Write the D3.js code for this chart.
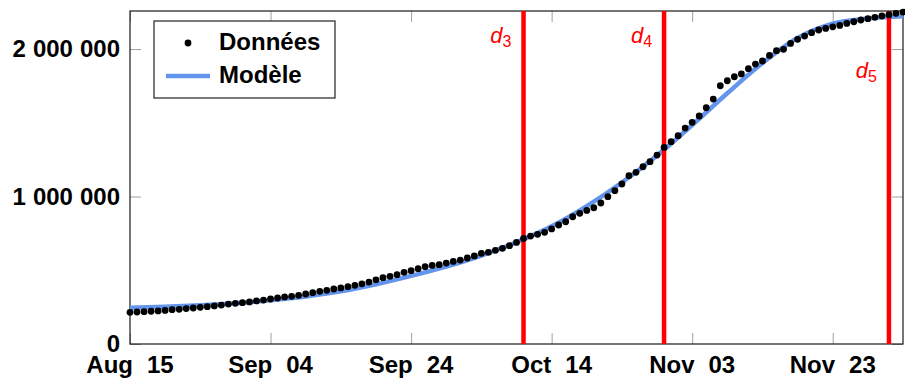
<!DOCTYPE html>
<html>
<head>
<meta charset="utf-8">
<script src="https://cdn.jsdelivr.net/npm/d3@7"></script>
<style>
  body { margin: 0; background: #fff; }
  svg text { font-family: "Liberation Sans", Arial, sans-serif; }
</style>
</head>
<body>
<div id="chart"></div>
<script>
// data (cumulative counts, thousands), one value per day from startDate
const startDate = new Date(2020, 7, 15);
const dailyValues = [
  215, 217, 219, 222, 224, 228, 233, 235, 240, 244,
  249, 253, 258, 264, 271, 276, 280, 285, 292, 298,
  305, 312, 319, 323, 330, 339, 348, 357, 364, 373,
  380, 389, 398, 408, 420, 435, 450, 459, 470, 486,
  497, 511, 524, 533, 538, 549, 560, 569, 583, 597,
  615, 621, 635, 649, 667, 689, 716, 732, 744, 757,
  780, 807, 829, 863, 886, 906, 924, 956, 999, 1040,
  1085, 1141, 1164, 1202, 1236, 1281, 1333, 1372, 1412, 1464,
  1503, 1546, 1602, 1661, 1751, 1785, 1812, 1831, 1867, 1898,
  1919, 1957, 1989, 1998, 2038, 2066, 2088, 2111, 2129, 2140,
  2151, 2160, 2174, 2185, 2197, 2206, 2215, 2224, 2233, 2242,
  2251
];
const modelDays = [0, 5, 10, 15, 20, 25, 30, 35, 40, 45, 50, 55,
  60, 65, 70, 75, 80, 85, 90, 95, 100, 105, 110];
const modelValues = [245, 252, 262, 276, 296, 322, 357, 405, 462, 525, 600, 690,
  798, 935, 1095, 1278, 1485, 1700, 1905, 2075, 2172, 2207, 2222];
const markerDays = [56, 76, 108];
const markerNames = ['3', '4', '5'];
const xTickDays = [0, 20, 40, 60, 80, 100];
const xTickLabels = [['Aug', '15'], ['Sep', '04'], ['Sep', '24'], ['Oct', '14'], ['Nov', '03'], ['Nov', '23']];
const yTickValues = [0, 1000000, 2000000];
const yTickLabels = ['0', '1 000 000', '2 000 000'];
const seriesNames = ['Données', 'Modèle'];

const width = 905, height = 378;
const margin = { top: 11, right: 2, bottom: 34, left: 130 };
const dayToDate = d => d3.timeDay.offset(startDate, d);

const svg = d3.select('#chart').append('svg')
  .attr('width', width)
  .attr('height', height);

const x = d3.scaleTime()
  .domain([dayToDate(0), dayToDate(110)])
  .range([margin.left, width - margin.right]);
const y = d3.scaleLinear()
  .domain([0, 2258000])
  .range([height - margin.bottom, margin.top]);

const x0 = margin.left, x1 = width - margin.right;
const y0 = height - margin.bottom, y1 = margin.top;
const tickLen = 11;

// ticks on all four sides, pointing inward
const xTickDates = xTickDays.map(dayToDate);
svg.append('g')
  .attr('transform', `translate(0,${y0})`)
  .call(d3.axisBottom(x).tickValues(xTickDates).tickSize(-tickLen).tickFormat(''))
  .call(g => g.select('.domain').remove())
  .call(g => g.selectAll('line').attr('stroke', '#a0a0a0'));
svg.append('g')
  .attr('transform', `translate(0,${y1})`)
  .call(d3.axisTop(x).tickValues(xTickDates).tickSize(-tickLen).tickFormat(''))
  .call(g => g.select('.domain').remove())
  .call(g => g.selectAll('line').attr('stroke', '#a0a0a0'));
svg.append('g')
  .attr('transform', `translate(${x0},0)`)
  .call(d3.axisLeft(y).tickValues(yTickValues).tickSize(-tickLen).tickFormat(''))
  .call(g => g.select('.domain').remove())
  .call(g => g.selectAll('line').attr('stroke', '#a0a0a0'));
svg.append('g')
  .attr('transform', `translate(${x1},0)`)
  .call(d3.axisRight(y).tickValues(yTickValues).tickSize(-tickLen).tickFormat(''))
  .call(g => g.select('.domain').remove())
  .call(g => g.selectAll('line').attr('stroke', '#a0a0a0'));

// frame
svg.append('rect')
  .attr('x', x0).attr('y', y1)
  .attr('width', x1 - x0).attr('height', y0 - y1)
  .attr('fill', 'none')
  .attr('stroke', '#1a1a1a')
  .attr('stroke-width', 1.2);

// tick labels
xTickDays.forEach((d, i) => {
  const t = svg.append('text')
    .attr('x', x(dayToDate(d)))
    .attr('y', y0 + 29)
    .attr('text-anchor', 'middle')
    .style('font-size', '24px')
    .style('font-weight', 'bold');
  t.append('tspan').text(xTickLabels[i][0]);
  t.append('tspan').attr('dx', 14).text(xTickLabels[i][1]);
});

yTickValues.forEach((v, i) => {
  const t = svg.append('text')
    .attr('x', x0 - 10)
    .attr('y', y(v))
    .attr('dy', '0.34em')
    .attr('text-anchor', 'end')
    .style('font-size', '24px')
    .style('font-weight', 'bold');
  yTickLabels[i].split(' ').forEach((grp, j) => {
    t.append('tspan').attr('dx', j ? 7 : 0).text(grp);
  });
});

// model curve
const modelLine = d3.line()
  .x((d, i) => x(dayToDate(modelDays[i])))
  .y(d => y(d * 1000))
  .curve(d3.curveMonotoneX);

svg.append('path')
  .datum(modelValues)
  .attr('d', modelLine)
  .attr('fill', 'none')
  .attr('stroke', '#6495ED')
  .attr('stroke-width', 4.5);

// marker days
markerDays.forEach((d, i) => {
  const xp = x(dayToDate(d));
  svg.append('line')
    .attr('x1', xp).attr('x2', xp)
    .attr('y1', y1).attr('y2', y0)
    .attr('stroke', '#ff0000')
    .attr('stroke-width', 4.5);
  const lab = svg.append('text')
    .attr('x', xp - 12)
    .attr('y', i === 2 ? 78 : 43)
    .attr('text-anchor', 'end')
    .attr('fill', '#ff0000')
    .style('font-style', 'italic')
    .style('font-size', '22px');
  lab.append('tspan').text('d');
  lab.append('tspan')
    .attr('dy', 4)
    .style('font-style', 'normal')
    .style('font-size', '16px')
    .text(markerNames[i]);
});

// data dots
svg.append('g')
  .selectAll('circle')
  .data(dailyValues)
  .enter()
  .append('circle')
  .attr('cx', (d, i) => x(dayToDate(i)))
  .attr('cy', d => y(d * 1000))
  .attr('r', 3.4)
  .attr('fill', '#000');

// legend
const legend = svg.append('g').attr('transform', 'translate(154,21)');
legend.append('rect')
  .attr('width', 181)
  .attr('height', 77)
  .attr('fill', '#fff')
  .attr('stroke', '#222')
  .attr('stroke-width', 1.2);
legend.append('circle')
  .attr('cx', 34).attr('cy', 22)
  .attr('r', 3.4)
  .attr('fill', '#000');
legend.append('line')
  .attr('x1', 12).attr('x2', 56)
  .attr('y1', 55).attr('y2', 55)
  .attr('stroke', '#6495ED')
  .attr('stroke-width', 4.5);
seriesNames.forEach((name, i) => {
  legend.append('text')
    .attr('x', 65)
    .attr('y', 29 + i * 33)
    .style('font-size', '24px')
    .style('font-weight', 'bold')
    .text(name);
});
</script>
</body>
</html>
